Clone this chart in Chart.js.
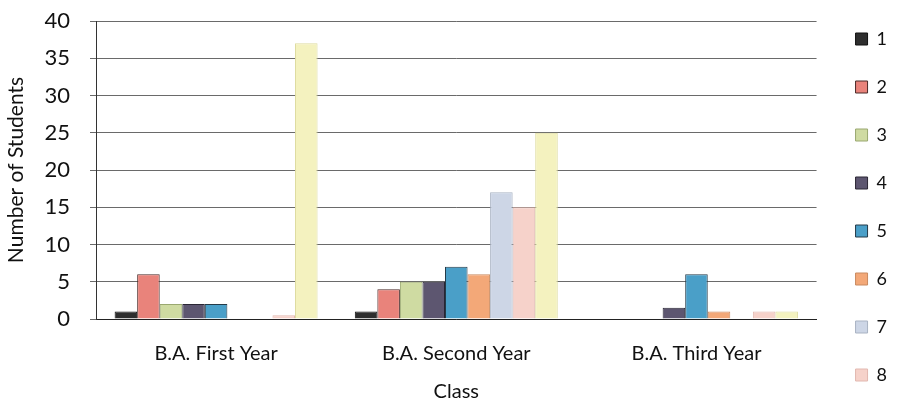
<!DOCTYPE html>
<html>
<head>
<meta charset="utf-8">
<script src="https://cdn.jsdelivr.net/npm/chart.js@4.4.1/dist/chart.umd.min.js"></script>
<style>
  html, body { margin: 0; padding: 0; background: #fff; overflow: hidden; }
  #wrap { width: 897px; height: 480px; position: relative; }
</style>
</head>
<body>
<div id="wrap"><canvas id="chart"></canvas></div>
<script>
// Categories and series
const classes = ['B.A. First Year', 'B.A. Second Year', 'B.A. Third Year'];
const seriesNames = ['1', '2', '3', '4', '5', '6', '7', '8', '9'];
const s1 = [1, 1, 0];
const s2 = [6, 4, 0];
const s3 = [2, 5, 0];
const s4 = [2, 5, 1.5];
const s5 = [2, 7, 6];
const s6 = [0, 6, 1];
const s7 = [0, 17, 0];
const s8 = [0.5, 15, 1];
const s9 = [37, 25, 1];
const yTicks = [0, 5, 10, 15, 20, 25, 30, 35, 40];

const fills = ['#2e2e2e', '#e9837b', '#cfdba2', '#5d5670', '#4a9fc8', '#f3a878', '#cdd6e6', '#f6d2ca', '#f4f2bf'];
const edges = ['#111111', '#4a2a28', '#9aa870', '#2a2634', '#243a48', '#c98a60', '#a9b3c3', '#e2b8b0', '#dedca0'];
const allSeries = [s1, s2, s3, s4, s5, s6, s7, s8, s9];

const font = 'Lato, "Open Sans", sans-serif';

// Build datasets from the arrays above
const datasets = allSeries.map((vals, i) => ({
    label: seriesNames[i],
    data: vals,
    backgroundColor: fills[i],
    borderColor: edges[i],
    borderWidth: 1,
    categoryPercentage: 0.845,
    barPercentage: 1
}));

new Chart(document.getElementById('chart'), {
    type: 'bar',
    data: { labels: classes, datasets: datasets },
    options: {
        responsive: true,
        maintainAspectRatio: false,
        devicePixelRatio: 1,
        animation: false,
        layout: { padding: 0 },
        plugins: {
            tooltip: { enabled: false },
            legend: {
                position: 'right',
                align: 'start',
                labels: {
                    boxWidth: 12,
                    boxHeight: 12,
                    padding: 30,
                    color: '#111',
                    font: { family: font, size: 18 }
                }
            }
        },
        scales: {
            x: {
                grid: { display: false },
                border: { display: true, color: '#222', width: 1 },
                ticks: { color: '#111', padding: 15, font: { family: font, size: 20 } },
                title: {
                    display: true, text: 'Class', color: '#111',
                    font: { family: font, size: 20 },
                    padding: { top: 0, bottom: 76 }
                },
                afterFit: s => { s.height = 161; }
            },
            y: {
                min: 0,
                max: 40,
                afterBuildTicks: s => { s.ticks = yTicks.map(v => ({ value: v })); },
                grid: { color: '#6a6a6a', lineWidth: 1, tickLength: 6 },
                border: { display: true, color: '#333', width: 1 },
                ticks: { color: '#111', padding: 20, font: { family: font, size: 22 } },
                title: {
                    display: true, text: 'Number of Students', color: '#111',
                    font: { family: font, size: 21 },
                    padding: { top: 4, bottom: 0 }
                },
                afterFit: s => { s.width = 96; s.paddingTop = 21; }
            },
            // empty spacer between plot and legend
            gap: {
                type: 'linear',
                position: 'right',
                display: true,
                grid: { display: false },
                ticks: { display: false },
                border: { display: false },
                afterFit: s => { s.width = 9; }
            }
        }
    }
});
</script>
</body>
</html>
